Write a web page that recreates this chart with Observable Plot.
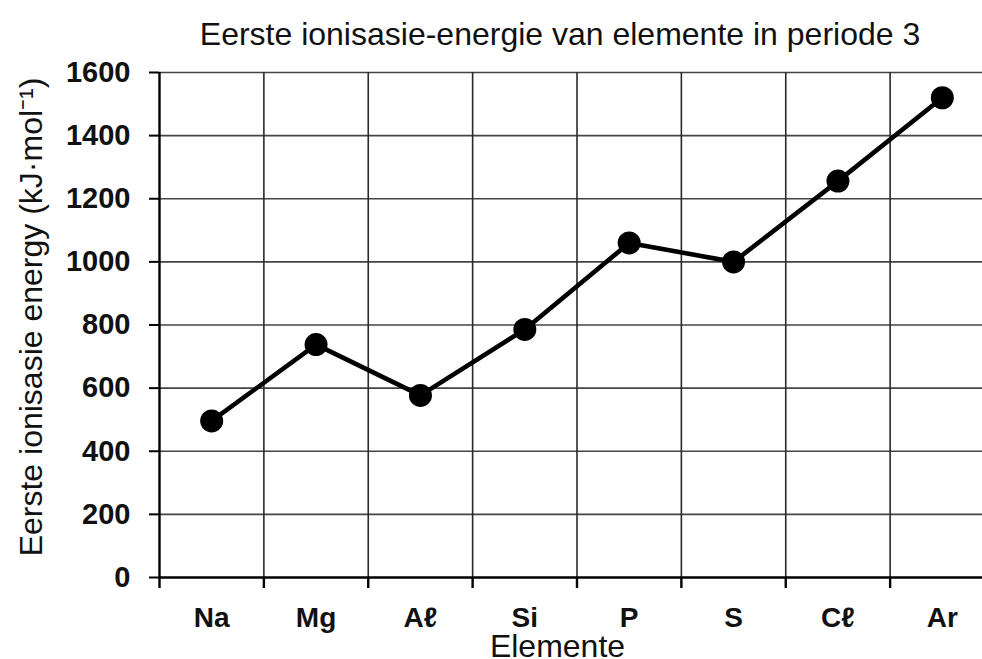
<!DOCTYPE html>
<html>
<head>
<meta charset="utf-8">
<script src="https://cdn.jsdelivr.net/npm/d3@7"></script>
<script src="https://cdn.jsdelivr.net/npm/@observablehq/plot@0.6"></script>
<style>
  html, body { margin: 0; padding: 0; background: #fff; overflow: hidden; }
  body { font-family: "Liberation Sans", Arial, sans-serif; width: 982px; height: 659px; }
  #title { box-sizing: border-box; height: 56px; width: 1120px; padding-top: 18px; text-align: center;
           font-size: 32px; line-height: 32px; color: #111; white-space: nowrap; }
  #chart { width: 1000px; }
  #chart svg { display: block; max-width: none !important; }
</style>
</head>
<body>
<div id="title">Eerste ionisasie-energie van elemente in periode 3</div>
<div id="chart"></div>
<script>
// ---- data ----
const elements = ["Na", "Mg", "Aℓ", "Si", "P", "S", "Cℓ", "Ar"];
const energies = [496, 738, 577, 786, 1060, 1000, 1256, 1520];
const yTicks = [0, 200, 400, 600, 800, 1000, 1200, 1400, 1600];
const yLabel = "Eerste ionisasie energy (kJ·mol⁻¹)";
const xLabel = "Elemente";

const data = elements.map((e, i) => ({element: e, pos: i + 0.5, energy: energies[i]}));
const boundaries = elements.map((e, i) => i);           // category boundaries
const centers = elements.map((e, i) => i + 0.5);         // category centers
const FONT = "Liberation Sans, Arial, sans-serif";

const chart = Plot.plot({
  width: 1000,
  height: 603,
  marginTop: 16,
  marginBottom: 82,
  marginLeft: 159,
  marginRight: 6,
  style: {fontFamily: FONT, background: "#fff", color: "#000", maxWidth: "none"},
  x: {type: "linear", domain: [0, elements.length]},
  y: {domain: [0, 1600]},
  marks: [
    // horizontal grid
    Plot.ruleY(yTicks.filter(d => d > 0), {stroke: "#444", strokeWidth: 1.6}),
    // vertical grid at category boundaries
    Plot.ruleX(boundaries.filter(d => d > 0), {stroke: "#2a2a2a", strokeWidth: 1.6}),
    // axis lines
    Plot.ruleX([0], {stroke: "#000", strokeWidth: 2.4}),
    Plot.ruleY([0], {stroke: "#000", strokeWidth: 2.4}),
    // y axis
    Plot.axisY({ticks: yTicks, tickSize: 10, tickPadding: 19, label: null,
      fontSize: 29, fontWeight: "bold", fill: "#111", stroke: "#000", strokeWidth: 2, tickFormat: d => String(d)}),
    // x boundary ticks
    Plot.axisX({ticks: boundaries, tickSize: 11, tickFormat: () => "", label: null, stroke: "#000", strokeWidth: 2.4}),
    // x category labels
    Plot.axisX({ticks: centers, tickSize: 0, tickPadding: 30, label: null,
      tickFormat: d => elements[Math.floor(d)], fontSize: 28, fontWeight: "bold", fill: "#111"}),
    // data
    Plot.line(data, {x: "pos", y: "energy", stroke: "#000", strokeWidth: 4.6}),
    Plot.dot(data, {x: "pos", y: "energy", r: 11.5, fill: "#000", stroke: null}),
    // axis labels
    Plot.text([yLabel], {frameAnchor: "left", rotate: -90, dx: -128, dy: -8,
      fontSize: 32, fill: "#111", textAnchor: "middle", lineAnchor: "middle"}),
    Plot.text([xLabel], {frameAnchor: "bottom", dx: -19.5, dy: 69,
      fontSize: 32, fill: "#111", textAnchor: "middle", lineAnchor: "middle"})
  ]
});
document.getElementById("chart").appendChild(chart);
</script>
</body>
</html>
